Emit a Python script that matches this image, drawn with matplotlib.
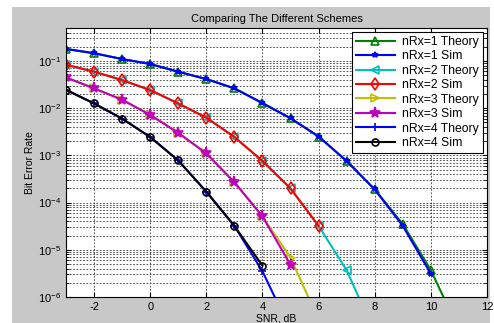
import numpy as np
import matplotlib
matplotlib.use('Agg')
import matplotlib.pyplot as plt
from matplotlib.patches import Rectangle

plt.rcParams['font.family'] = ['Liberation Sans', 'DejaVu Sans']
plt.rcParams['mathtext.fontset'] = 'custom'
plt.rcParams['mathtext.rm'] = 'Liberation Sans'
plt.rcParams['axes.unicode_minus'] = False

# Eb/N0 in dB
snr_db = np.arange(-3, 12)

# BER (theory curves run a bit past the last sim point)
theory_nrx1 = [0.180, 0.146, 0.110, 0.0863, 0.0593, 0.0414, 0.0263, 0.0128,
               6.12e-3, 2.51e-3, 7.6e-4, 1.9e-4, 3.5e-5, 3.7e-6, 2.0e-7]
sim_nrx1 = [0.180, 0.146, 0.110, 0.0863, 0.0593, 0.0414, 0.0263, 0.0128,
            6.12e-3, 2.51e-3, 7.6e-4, 1.9e-4, 3.2e-5, 3.1e-6]
theory_nrx2 = [0.0836, 0.0593, 0.0394, 0.0242, 0.0126, 6.3e-3, 2.45e-3, 7.6e-4,
               2.0e-4, 3.2e-5, 3.7e-6, 1.7e-7]
sim_nrx2 = [0.0836, 0.0593, 0.0394, 0.0242, 0.0126, 6.3e-3, 2.45e-3, 7.6e-4,
            2.0e-4, 3.2e-5]
theory_nrx3 = [0.0449, 0.0263, 0.0151, 7.2e-3, 3.0e-3, 1.1e-3, 2.7e-4, 5.1e-5,
               6.8e-6, 3.3e-7]
sim_nrx3 = [0.0449, 0.0263, 0.0151, 7.2e-3, 3.0e-3, 1.1e-3, 2.7e-4, 5.1e-5,
            4.8e-6]
theory_nrx4 = [0.0245, 0.0126, 6.0e-3, 2.45e-3, 7.8e-4, 1.7e-4, 3.2e-5, 3.5e-6,
               2.0e-7]
sim_nrx4 = [0.0245, 0.0126, 6.0e-3, 2.45e-3, 7.8e-4, 1.7e-4, 3.2e-5, 4.6e-6]

fig = plt.figure(figsize=(4.94, 3.23), dpi=100, facecolor='white')
# grey figure panel like the MATLAB window
fig.patches.append(Rectangle((0.0243, 0.0), 0.9676, 0.978, transform=fig.transFigure,
                             facecolor='#c8c8c8', edgecolor='none', zorder=-10))
ax = fig.add_axes([0.1336, 0.0805, 0.8522, 0.8328])

lw = 1.5
series = [
    (theory_nrx1, 'g', '^', 6, 'nRx=1 Theory'),
    (sim_nrx1, 'b', '*', 4, 'nRx=1 Sim'),
    (theory_nrx2, 'c', '<', 6, 'nRx=2 Theory'),
    (sim_nrx2, 'r', 'd', 6, 'nRx=2 Sim'),
    (theory_nrx3, 'y', '>', 6, 'nRx=3 Theory'),
    (sim_nrx3, 'm', '*', 8, 'nRx=3 Sim'),
    (theory_nrx4, 'b', '+', 6, 'nRx=4 Theory'),
    (sim_nrx4, 'k', 'o', 5, 'nRx=4 Sim'),
]
for vals, col, mk, ms, lab in series:
    ax.semilogy(snr_db[:len(vals)], vals, color=col, marker=mk, ms=ms,
                mfc='none' if mk != '*' else col, mec=col, mew=1.2,
                lw=lw, label=lab)

ax.set_xlim(-3, 12)
ax.set_ylim(1e-6, 0.5)
ax.set_xticks(np.arange(-2, 13, 2))
ax.grid(True, which='major', color='#333333', ls=(0, (2, 2)), lw=0.6)
ax.grid(True, which='minor', axis='y', color='#333333', ls=(0, (2, 2)), lw=0.6)
ax.tick_params(which='both', direction='in', top=True, right=True, labelsize=8)

ax.set_title('Comparing The Different Schemes', fontsize=8, pad=4)
ax.set_xlabel('SNR, dB', fontsize=7.5, labelpad=1)
ax.set_ylabel('Bit Error Rate', fontsize=7.5, labelpad=2)

leg = ax.legend(loc='upper right', fontsize=8.8, fancybox=False, framealpha=1,
                edgecolor='black', handlelength=3.2, handletextpad=0.6,
                labelspacing=0.2, borderaxespad=0.3, borderpad=0.35)
leg.get_frame().set_linewidth(0.8)

fig.savefig('out.png', dpi=100, facecolor=fig.get_facecolor())
